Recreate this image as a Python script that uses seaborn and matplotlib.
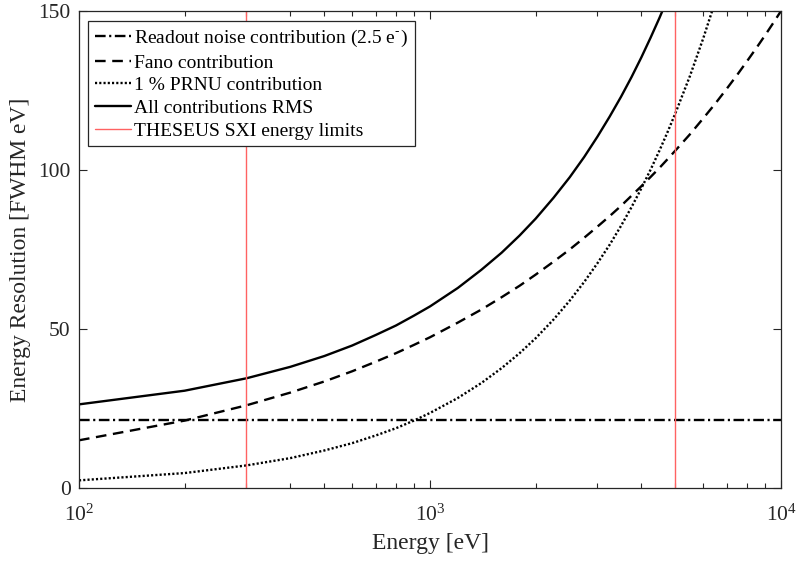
import numpy as np
import pandas as pd
import matplotlib
matplotlib.use("Agg")
import matplotlib.pyplot as plt
import seaborn as sns
from matplotlib.ticker import LogLocator, NullFormatter

# ---- data ----
energy = [100, 200, 300, 400, 500, 600, 700, 800, 900, 1000,
          1200, 1400, 1600, 1800, 2000, 2250, 2500, 2750, 3000, 3250,
          3500, 3750, 4000, 4250, 4500, 4750, 5000, 5500, 6000, 6500,
          7000, 7500, 8000, 8500, 9000, 9500, 10000]
readout = [21.5] * len(energy)
fano = [15.0, 21.2, 26.0, 30.0, 33.5, 36.7, 39.7, 42.4, 45.0, 47.4,
        52.0, 56.1, 60.0, 63.6, 67.1, 71.2, 75.0, 78.7, 82.2, 85.5,
        88.7, 91.9, 94.9, 97.8, 100.6, 103.4, 106.1, 111.2, 116.2, 120.9,
        125.5, 129.9, 134.2, 138.3, 142.3, 146.2, 150.0]
prnu = [2.4, 4.7, 7.1, 9.4, 11.8, 14.1, 16.5, 18.8, 21.2, 23.6,
        28.3, 33.0, 37.7, 42.4, 47.1, 53.0, 58.9, 64.8, 70.7, 76.5,
        82.4, 88.3, 94.2, 100.1, 106.0, 111.9, 117.8, 129.5, 141.3, 153.1,
        None, None, None, None, None, None, None]
rms = [26.3, 30.6, 34.5, 38.1, 41.5, 44.8, 48.1, 51.1, 54.2, 57.1,
       62.9, 68.6, 74.0, 79.4, 84.7, 91.3, 97.7, 104.1, 110.5, 116.8,
       123.0, 129.2, 135.4, 141.6, 147.7, 153.8, None, None, None, None,
       None, None, None, None, None, None, None]
energy_limits = [300, 5000]

labels = ["Readout noise contribution (2.5 e$^{\\text{-}}$)", "Fano contribution",
          "1 % PRNU contribution", "All contributions RMS",
          "THESEUS SXI energy limits"]

sns.set_style("ticks")
plt.rcParams["font.family"] = ["Liberation Serif", "DejaVu Serif"]
plt.rcParams["mathtext.fontset"] = "stix"
txt = "#262626"

fig = plt.figure(figsize=(7.98, 5.63), dpi=100)
ax = fig.add_axes([79 / 798, 1 - 488 / 563, (781 - 79) / 798, (488 - 11) / 563])

df = pd.DataFrame({"energy": energy, "readout": readout, "fano": fano,
                   "prnu": prnu, "rms": rms})

styles = [("readout", (4.5, 1.5, 0.9, 1.5)),
          ("fano", (4.5, 2.8)),
          ("prnu", (0.9, 0.9)),
          ("rms", None)]
for (col, dash), lab in zip(styles, labels[:4]):
    d = df[["energy", col]].dropna()
    sns.lineplot(data=d, x="energy", y=col, ax=ax, color="black",
                 linewidth=1.7, label=lab)
    ln = ax.get_lines()[-1]
    if dash is not None:
        ln.set_dashes(dash)

for i, e in enumerate(energy_limits):
    ax.axvline(e, color="#ff6262", linewidth=1.0,
               label=labels[4] if i == 0 else None)

ax.set_xscale("log")
ax.set_xlim(100, 10000)
ax.set_ylim(0, 150)
ax.set_yticks([0, 50, 100, 150])
ax.xaxis.set_minor_locator(LogLocator(base=10, subs=np.arange(2, 10), numticks=20))
ax.xaxis.set_minor_formatter(NullFormatter())

for s in ax.spines.values():
    s.set_visible(True)
    s.set_color(txt)
    s.set_linewidth(0.9)

ax.tick_params(which="both", direction="in", top=True, right=True,
               colors=txt, labelsize=15.5)
ax.tick_params(which="major", length=6, width=0.8)
ax.tick_params(which="minor", length=3.5, width=0.8)
ax.tick_params(axis="y", pad=6)
ax.tick_params(axis="x", pad=12)

ax.set_xlabel("Energy [eV]", fontsize=17, color=txt, labelpad=5)
ax.set_ylabel("Energy Resolution [FWHM eV]", fontsize=17, color=txt, labelpad=5)

leg = ax.legend(loc="upper left", bbox_to_anchor=(0.013, 0.979),
                borderaxespad=0, fontsize=14, frameon=True, fancybox=False,
                handlelength=1.85, handletextpad=0.15, labelspacing=0.26,
                borderpad=0.35)
leg.get_frame().set_edgecolor(txt)
leg.get_frame().set_linewidth(0.9)
leg.get_frame().set_alpha(1)
for t in leg.get_texts():
    t.set_color("black")

fig.savefig("out.png", dpi=100)
